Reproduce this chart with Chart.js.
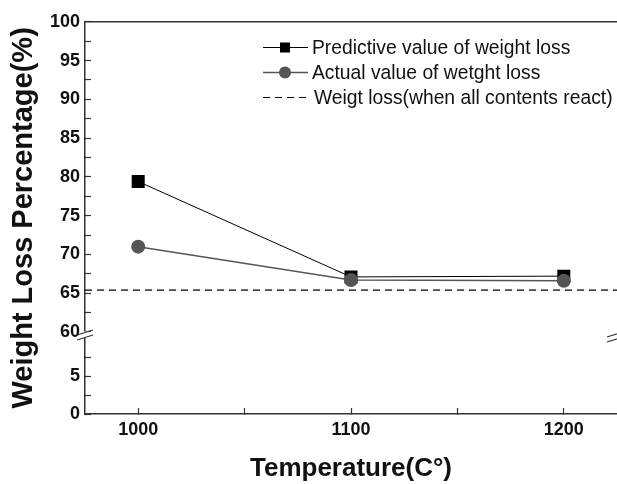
<!DOCTYPE html>
<html>
<head>
<meta charset="utf-8">
<script src="https://cdn.jsdelivr.net/npm/chart.js@4.4.0/dist/chart.umd.min.js"></script>
<style>
html, body { margin: 0; padding: 0; background: #fff; }
</style>
</head>
<body>
<canvas id="myChart" width="617" height="484"></canvas>
<script>
// values
const temperatures = [1000, 1100, 1200];
const predictiveLoss = [79.4, 67.1, 67.2];
const actualLoss = [71.0, 66.7, 66.6];
const allReactLoss = 65.4;

const xTicks = [1000, 1050, 1100, 1150, 1200];
const upperTicks = [60, 62.5, 65, 67.5, 70, 72.5, 75, 77.5, 80, 82.5, 85, 87.5, 90, 92.5, 95, 97.5, 100];
const lowerTicks = [0, 2.5, 5, 7.5];

const xTitle = 'Temperature(C°)';
const yTitle = 'Weight Loss Percentage(%)';

const FONT = "'Liberation Sans', Arial, sans-serif";
const INK = '#111';
const AXIS = '#333';

const toPoints = (ys) => temperatures.map((t, i) => ({x: t, y: ys[i]}));

// top border, axis breaks, legend and the y title
const extras = {
  id: 'extras',
  afterDraw(chart) {
    const {ctx, chartArea} = chart;
    const up = chart.scales.y;
    ctx.save();

    ctx.strokeStyle = AXIS;
    ctx.lineWidth = 1.5;
    ctx.beginPath();
    ctx.moveTo(chartArea.left, chartArea.top);
    ctx.lineTo(chartArea.right + 2, chartArea.top);
    ctx.stroke();

    const brk = (cx, cy) => {
      ctx.fillStyle = '#fff';
      ctx.fillRect(cx - 3, cy - 3, 6, 6);
      ctx.strokeStyle = AXIS;
      ctx.lineWidth = 1.2;
      ctx.beginPath();
      ctx.moveTo(cx - 8, cy + 0.5); ctx.lineTo(cx + 8, cy - 4.5);
      ctx.moveTo(cx - 8, cy + 5.5); ctx.lineTo(cx + 8, cy + 0.5);
      ctx.stroke();
    };
    brk(chartArea.left, up.bottom + 2.5);
    brk(chartArea.right - 2, up.bottom + 4.5);

    // legend
    const rows = [47.5, 72.5, 97.5];
    const x0 = 263, x1 = 308, xm = 285;
    ctx.font = '19.3px ' + FONT;
    ctx.textBaseline = 'middle';
    ctx.textAlign = 'left';
    chart.data.datasets.forEach((ds, i) => {
      const y = rows[i];
      ctx.strokeStyle = ds.borderColor;
      ctx.lineWidth = ds.borderWidth;
      ctx.setLineDash(ds.borderDash || []);
      ctx.beginPath();
      ctx.moveTo(x0, y); ctx.lineTo(x1, y);
      ctx.stroke();
      ctx.setLineDash([]);
      if (ds.pointStyle === 'rect') {
        ctx.fillStyle = ds.pointBackgroundColor;
        ctx.fillRect(xm - 5, y - 5, 10, 10);
      } else if (ds.pointStyle === 'circle') {
        ctx.fillStyle = ds.pointBackgroundColor;
        ctx.beginPath();
        ctx.arc(xm, y, 6, 0, Math.PI * 2);
        ctx.fill();
      }
      ctx.fillStyle = INK;
      ctx.fillText(ds.label, ds.pointStyle ? 312 : 314, y + 1);
    });

    // y title, centred on the whole broken axis
    ctx.translate(32, (chartArea.top + chartArea.bottom) / 2);
    ctx.rotate(-Math.PI / 2);
    ctx.font = 'bold 29px ' + FONT;
    ctx.textAlign = 'center';
    ctx.textBaseline = 'alphabetic';
    ctx.fillStyle = INK;
    ctx.fillText(yTitle, 0, 0);
    ctx.restore();
  }
};

const tickFont = {family: FONT, size: 18, weight: 'bold'};
const yGrid = {drawOnChartArea: false, tickLength: -6, tickColor: AXIS, tickWidth: 1.2};
const fitY = (s) => { s.width = 85; };

const setup = () => {
  const ctxt = document.getElementById('myChart').getContext('2d');
  new Chart(ctxt, {
    type: 'line',
    data: {
      datasets: [{
        label: 'Predictive value of weight loss',
        data: toPoints(predictiveLoss),
        yAxisID: 'y',
        order: 1,
        borderColor: '#000',
        borderWidth: 1,
        pointStyle: 'rect',
        pointRadius: 9.2,
        pointBackgroundColor: '#000',
        pointBorderWidth: 0
      }, {
        label: 'Actual value of wetght loss',
        data: toPoints(actualLoss),
        yAxisID: 'y',
        order: 0,
        borderColor: '#555',
        borderWidth: 1.5,
        pointStyle: 'circle',
        pointRadius: 7,
        pointBackgroundColor: '#555',
        pointBorderWidth: 0
      }, {
        label: 'Weigt loss(when all contents react)',
        data: [{x: 975, y: allReactLoss}, {x: 1225, y: allReactLoss}],
        yAxisID: 'y',
        order: 2,
        borderColor: '#000',
        borderWidth: 1.2,
        borderDash: [7, 5],
        pointStyle: false,
        pointRadius: 0
      }]
    },
    options: {
      responsive: false,
      animation: false,
      layout: {autoPadding: false, padding: {top: 21, left: 0, right: 0, bottom: 0}},
      plugins: {legend: {display: false}, tooltip: {enabled: false}},
      scales: {
        x: {
          type: 'linear',
          min: 975,
          max: 1225,
          afterBuildTicks: (s) => { s.ticks = xTicks.map(v => ({value: v})); },
          afterFit: (s) => { s.height = 70; s.paddingLeft = 0; s.paddingRight = 0; },
          grid: {drawOnChartArea: false, tickLength: -6, tickColor: AXIS, tickWidth: 1.2},
          border: {color: AXIS, width: 1.5},
          ticks: {autoSkip: false, maxRotation: 0, padding: 11, color: INK, font: tickFont, callback: (v) => (v % 100 === 0 ? String(v) : '')},
          title: {display: true, text: xTitle, color: INK, font: {family: FONT, size: 26, weight: 'bold'}, padding: {top: 0, bottom: 0}}
        },
        // the lower piece of the broken axis is listed first so it sits under the upper one
        y2: {
          type: 'linear',
          position: 'left',
          stack: 'wl',
          stackWeight: 10.58,
          min: 0,
          max: 10.85,
          afterBuildTicks: (s) => { s.ticks = lowerTicks.map(v => ({value: v})); },
          afterFit: fitY,
          grid: yGrid,
          border: {color: AXIS, width: 1.5},
          ticks: {autoSkip: false, padding: 11, color: INK, font: tickFont, callback: (v) => (v % 5 === 0 ? String(v) : '')}
        },
        y: {
          type: 'linear',
          position: 'left',
          stack: 'wl',
          stackWeight: 40,
          min: 60,
          max: 100,
          afterBuildTicks: (s) => { s.ticks = upperTicks.map(v => ({value: v})); },
          afterFit: fitY,
          grid: yGrid,
          border: {color: AXIS, width: 1.5},
          ticks: {autoSkip: false, padding: 11, color: INK, font: tickFont, callback: (v) => (v % 5 === 0 ? String(v) : '')}
        }
      }
    },
    plugins: [extras]
  });
};

window.addEventListener('DOMContentLoaded', setup);
</script>
</body>
</html>
